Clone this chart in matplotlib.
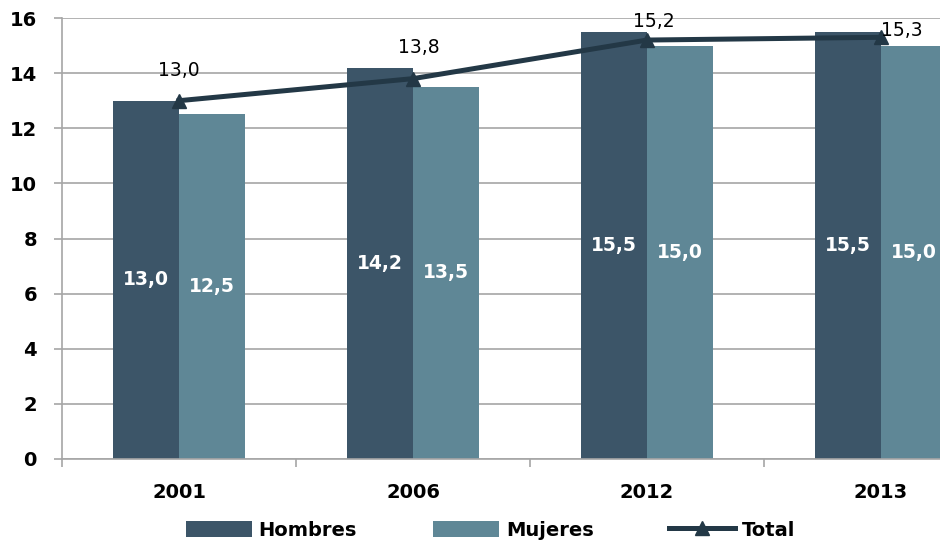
import matplotlib
matplotlib.use("Agg")
import matplotlib.pyplot as plt
from matplotlib.ticker import FixedLocator
import numpy as np

years = ["2001", "2006", "2012", "2013"]
hombres = [13.0, 14.2, 15.5, 15.5]
mujeres = [12.5, 13.5, 15.0, 15.0]
total = [13.0, 13.8, 15.2, 15.3]
yticks = [0, 2, 4, 6, 8, 10, 12, 14, 16]

c_h = "#3C5568"
c_m = "#5F8796"
c_t = "#233846"
c_grid = "#A6A6A6"

plt.rcParams['font.family'] = ['DejaVu Sans']

fig = plt.figure(figsize=(9.4, 5.45), dpi=100)
W, H = 940, 545
left, right, top, bottom = 62, 998, 18, 459
ax = fig.add_axes([left / W, 1 - bottom / H, (right - left) / W, (bottom - top) / H])

x = np.arange(len(years))
bw = 0.283
bh = ax.bar(x - bw / 2, hombres, bw, color=c_h, label="Hombres", zorder=2)
bm = ax.bar(x + bw / 2, mujeres, bw, color=c_m, label="Mujeres", zorder=2)
lt, = ax.plot(x, total, color=c_t, lw=3.6, marker="^", ms=10, label="Total", zorder=4)

def fmt(v):
    return f"{v:.1f}".replace(".", ",")

for xi, v in zip(x, hombres):
    ax.text(xi - bw / 2, v / 2, fmt(v), color="white",
            ha="center", va="center", fontsize=13.5, fontweight="bold", zorder=5)
for xi, v in zip(x, mujeres):
    ax.text(xi + bw / 2, v / 2, fmt(v), color="white",
            ha="center", va="center", fontsize=13.5, fontweight="bold", zorder=5)

offsets = [(0, 21.6), (4.3, 22.3), (5, 13), (15, 5)]
for xi, v, off in zip(x, total, offsets):
    ax.annotate(fmt(v), (xi, v), xytext=off,
                textcoords="offset points", ha="center", va="center",
                fontsize=13.5, color="black", zorder=6, annotation_clip=False)

ax.set_xlim(-0.5, len(years) - 0.5)
ax.set_ylim(0, 16)
ax.yaxis.set_major_locator(FixedLocator(yticks))
ax.grid(axis="y", color=c_grid, lw=1.2, zorder=0)
ax.set_axisbelow(True)

ax.set_xticks(x)
ax.set_xticklabels(years, fontsize=14, fontweight="bold")
ax.xaxis.set_minor_locator(FixedLocator(np.arange(-0.5, len(years), 1.0)))
ax.tick_params(axis="x", which="major", length=0, pad=17)
ax.tick_params(axis="x", which="minor", length=6, color=c_grid, width=1.2)
ax.tick_params(axis="y", length=6, color=c_grid, width=1.2, labelsize=14, pad=12)
for lbl in ax.get_yticklabels():
    lbl.set_fontweight("bold")

for s in ["top", "right"]:
    ax.spines[s].set_visible(False)
for s in ["left", "bottom"]:
    ax.spines[s].set_color(c_grid)
    ax.spines[s].set_linewidth(1.2)

leg = fig.legend(handles=[bh, bm, lt], loc="center", bbox_to_anchor=(0.522, 1 - 530 / H),
                 ncol=3, frameon=False, handlelength=3.4,
                 handleheight=0.85, columnspacing=3.9, handletextpad=0.35,
                 prop={"weight": "bold", "size": 14})

fig.savefig("out.png", dpi=100)
